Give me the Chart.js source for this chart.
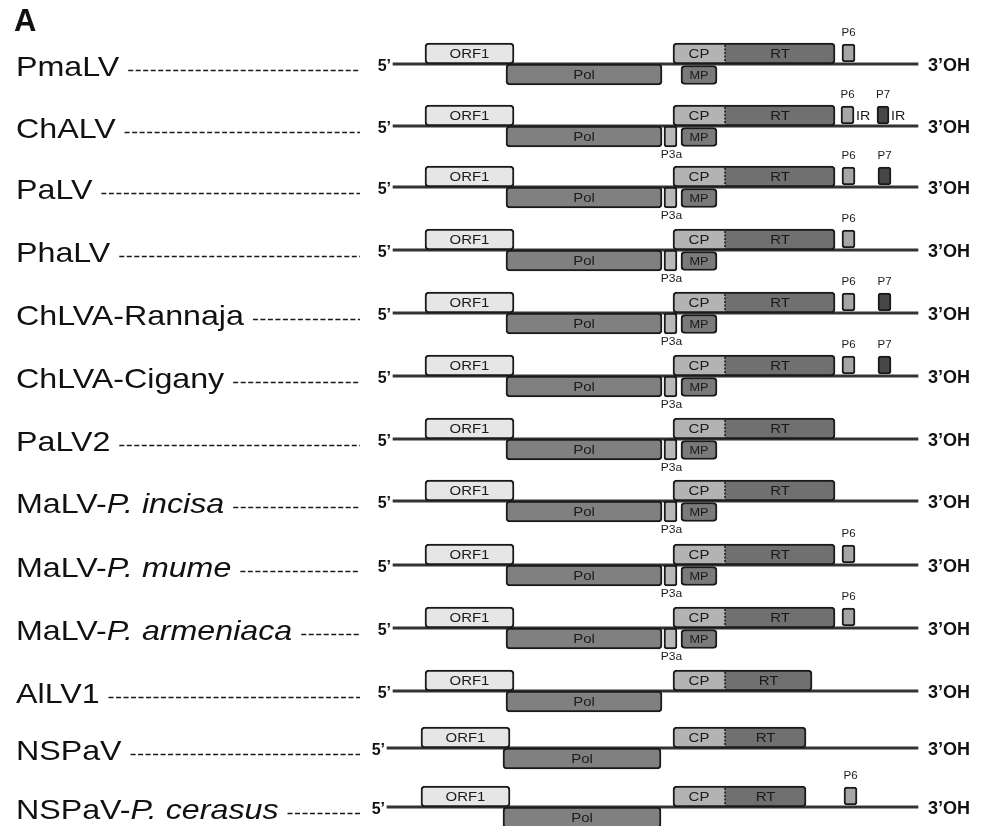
<!DOCTYPE html>
<html>
<head>
<meta charset="utf-8">
<script src="https://cdn.jsdelivr.net/npm/chart.js@4.4.1/dist/chart.umd.min.js"></script>
<style>
  html, body { margin: 0; padding: 0; background: #fff; }
  #wrap { width: 987px; height: 826px; position: relative; }
</style>
</head>
<body>
<div id="wrap"><canvas id="genomeChart"></canvas></div>
<script>
// genome names (roman part + italic part)
const genomes = ['PmaLV', 'ChALV', 'PaLV', 'PhaLV', 'ChLVA-Rannaja', 'ChLVA-Cigany', 'PaLV2',
                 'MaLV-', 'MaLV-', 'MaLV-', 'AlLV1', 'NSPaV', 'NSPaV-'];
const genomeItalic = ['', '', '', '', '', '', '', 'P. incisa', 'P. mume', 'P. armeniaca', '', '', 'P. cerasus'];

// ORF start/end (x axis units), null = not present
const genomeSpan = [[393,918],[393,918],[393,918],[393,918],[393,918],[393,918],[393,918],
                    [393,918],[393,918],[393,918],[393,918],[387,918],[387,918]];
const orf1 = [[425,514],[425,514],[425,514],[425,514],[425,514],[425,514],[425,514],
              [425,514],[425,514],[425,514],[425,514],[421,510],[421,510]];
const pol  = [[506,662],[506,662],[506,662],[506,662],[506,662],[506,662],[506,662],
              [506,662],[506,662],[506,662],[506,662],[503,661],[503,661]];
const cp   = [[673,725],[673,725],[673,725],[673,725],[673,725],[673,725],[673,725],
              [673,725],[673,725],[673,725],[673,725],[673,725],[673,725]];
const rt   = [[725,835],[725,835],[725,835],[725,835],[725,835],[725,835],[725,835],
              [725,835],[725,835],[725,835],[725,812],[725,806],[725,806]];
const mp   = [[681,717],[681,717],[681,717],[681,717],[681,717],[681,717],[681,717],
              [681,717],[681,717],[681,717],null,null,null];
const p3a  = [null,[664,677],[664,677],[664,677],[664,677],[664,677],[664,677],
              [664,677],[664,677],[664,677],null,null,null];
const p6   = [[842,855],[841,854],[842,855],[842,855],[842,855],[842,855],null,
              null,[842,855],[842,855],null,null,[844,857]];
const p7   = [null,[877,889],[878,891],null,[878,891],[878,891],null,
              null,null,null,null,null,null];
const irLabel = ['', 'IR', '', '', '', '', '', '', '', '', '', '', ''];

// layout: genome line y for each row (pixel units of y axis)
const ROW_Y = [64, 126, 187, 250, 313, 376, 439, 501, 565, 628, 691, 748, 807];
const FONT = "'Liberation Sans', Arial, sans-serif";
const SX = 1.15; // figure is horizontally stretched

function lane(arr, offset) {
  const out = [];
  arr.forEach((v, i) => { if (v) out.push({ x: v, y: ROW_Y[i] + offset, row: i }); });
  return out;
}

function box(label, data, fill, extra) {
  return Object.assign({
    label: label,
    data: data,
    backgroundColor: fill,
    borderColor: '#1a1a1a',
    borderWidth: 2,
    borderRadius: 4,
    borderSkipped: false,
    barThickness: 21,
    grouped: false
  }, extra || {});
}

const datasets = [
  box('ORF1', lane(orf1, -10.5), '#e6e6e6', { inside: 13 }),
  box('Pol', lane(pol, 10.5), '#808080', { inside: 13 }),
  box('CP', lane(cp, -10.5), '#b3b3b3', { inside: 13, borderSkipped: 'right',
      borderRadius: { topLeft: 4, bottomLeft: 4, topRight: 0, bottomRight: 0 } }),
  box('RT', lane(rt, -10.5), '#707070', { inside: 13, borderSkipped: 'left',
      borderRadius: { topLeft: 0, bottomLeft: 0, topRight: 4, bottomRight: 4 } }),
  box('MP', lane(mp, 11), '#7a7a7a', { inside: 11, barThickness: 19 }),
  box('P3a', lane(p3a, 10.5), '#b8b8b8', { below: true, borderRadius: 3 }),
  box('P6', lane(p6, -11), '#a6a6a6', { above: true, barThickness: 18, borderRadius: 3 }),
  box('P7', lane(p7, -11), '#474747', { above: true, barThickness: 18, borderRadius: 3 }),
  {
    label: 'genome',
    data: lane(genomeSpan, 0),
    backgroundColor: '#333333',
    borderWidth: 0,
    barThickness: 2.5,
    grouped: false
  }
];

function stretchText(ctx, txt, x, y, sx) {
  ctx.save();
  ctx.translate(x, y);
  ctx.scale(sx, 1);
  ctx.fillText(txt, 0, 0);
  ctx.restore();
}

const figurePlugin = {
  id: 'figure',
  beforeDraw(chart) {
    const ctx = chart.ctx;
    ctx.save();
    ctx.fillStyle = '#fff';
    ctx.fillRect(0, 0, chart.width, chart.height);
    ctx.restore();
  },
  afterDatasetsDraw(chart) {
    const ctx = chart.ctx;
    const xs = chart.scales.x, ys = chart.scales.y;
    ctx.save();
    ctx.fillStyle = '#111';

    // panel letter
    ctx.font = 'bold 31px ' + FONT;
    ctx.textAlign = 'left';
    ctx.textBaseline = 'alphabetic';
    ctx.fillText('A', 14, 31);

    genomes.forEach((name, i) => {
      const L = ys.getPixelForValue(ROW_Y[i]);
      // name
      ctx.fillStyle = '#111';
      ctx.textAlign = 'left';
      ctx.textBaseline = 'alphabetic';
      ctx.font = '28px ' + FONT;
      const x0 = 16;
      stretchText(ctx, name, x0, L + 12, SX);
      let w = ctx.measureText(name).width * SX;
      if (genomeItalic[i]) {
        ctx.font = 'italic 28px ' + FONT;
        stretchText(ctx, genomeItalic[i], x0 + w, L + 12, SX);
        w += ctx.measureText(genomeItalic[i]).width * SX;
      }
      // dashed leader
      ctx.strokeStyle = '#1a1a1a';
      ctx.lineWidth = 1.4;
      ctx.setLineDash([5, 2.5]);
      ctx.beginPath();
      ctx.moveTo(x0 + w + 9, L + 6.5);
      ctx.lineTo(360, L + 6.5);
      ctx.stroke();
      ctx.setLineDash([]);
      // ends
      const span = genomeSpan[i];
      ctx.font = 'bold 16px ' + FONT;
      ctx.textAlign = 'right';
      ctx.fillText('5\u2019', xs.getPixelForValue(span[0]) - 2, L + 7);
      ctx.font = 'bold 18px ' + FONT;
      ctx.textAlign = 'left';
      ctx.fillText('3\u2019OH', xs.getPixelForValue(span[1]) + 10, L + 7);
    });

    // labels of ORFs
    chart.data.datasets.forEach((ds, di) => {
      const meta = chart.getDatasetMeta(di);
      meta.data.forEach((el, k) => {
        const p = el.getProps(['x', 'y', 'base', 'height']);
        const left = Math.min(p.x, p.base), right = Math.max(p.x, p.base);
        const cx = (left + right) / 2;
        ctx.fillStyle = '#1a1a1a';
        ctx.textAlign = 'center';
        ctx.textBaseline = 'middle';
        if (ds.inside) {
          ctx.font = ds.inside + 'px ' + FONT;
          stretchText(ctx, ds.label, cx, p.y + 1, SX);
        } else if (ds.above) {
          ctx.font = '11px ' + FONT;
          stretchText(ctx, ds.label, cx, p.y - 20, 1.05);
          if (irLabel[ds.data[k].row]) {
            ctx.font = '13px ' + FONT;
            ctx.textAlign = 'left';
            stretchText(ctx, irLabel[ds.data[k].row], right + 2, p.y + 1, 1.1);
          }
        } else if (ds.below) {
          ctx.font = '11.5px ' + FONT;
          stretchText(ctx, ds.label, cx + 1, p.y + 18, 1.05);
        }
        if (ds.label === 'CP') {
          ctx.strokeStyle = '#1a1a1a';
          ctx.lineWidth = 1.5;
          ctx.setLineDash([2, 1.5]);
          ctx.beginPath();
          ctx.moveTo(right, p.y - p.height / 2 + 2);
          ctx.lineTo(right, p.y + p.height / 2 - 2);
          ctx.stroke();
          ctx.setLineDash([]);
        }
      });
    });
    ctx.restore();
  }
};

new Chart(document.getElementById('genomeChart').getContext('2d'), {
  type: 'bar',
  data: { datasets: datasets },
  options: {
    indexAxis: 'y',
    responsive: true,
    maintainAspectRatio: false,
    animation: false,
    layout: { padding: 0 },
    scales: {
      x: { type: 'linear', min: 0, max: 987, display: false },
      y: { type: 'linear', min: 0, max: 826, reverse: true, offset: false, display: false }
    },
    plugins: {
      legend: { display: false },
      tooltip: { enabled: false }
    }
  },
  plugins: [figurePlugin]
});
</script>
</body>
</html>
